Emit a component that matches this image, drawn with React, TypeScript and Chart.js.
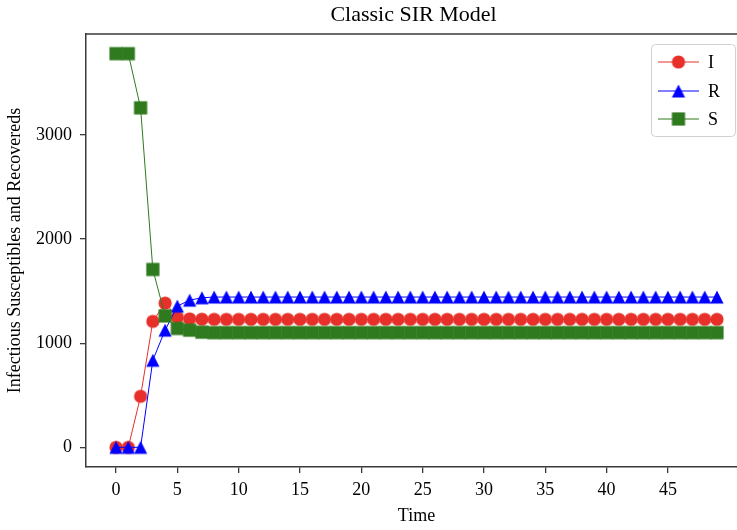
import React, { useEffect, useRef } from "react";
import { Chart, registerables } from "chart.js";
Chart.register(...registerables);

const timeSteps = [
  0, 1, 2, 3, 4, 5, 6, 7, 8, 9, 10, 11, 12, 13, 14, 15, 16, 17, 18, 19, 20, 21, 22, 23, 24,
  25, 26, 27, 28, 29, 30, 31, 32, 33, 34, 35, 36, 37, 38, 39, 40, 41, 42, 43, 44, 45, 46, 47, 48, 49,
];
const infected = [
  0, 0, 490, 1210, 1385, 1248, 1234, 1230, 1229, 1229, 1229, 1229, 1229, 1229, 1229, 1229, 1229,
  1229, 1229, 1229, 1229, 1229, 1229, 1229, 1229, 1229, 1229, 1229, 1229, 1229, 1229, 1229, 1229,
  1229, 1229, 1229, 1229, 1229, 1229, 1229, 1229, 1229, 1229, 1229, 1229, 1229, 1229, 1229, 1229, 1229,
];
const recovered = [
  0, 0, 0, 836, 1125, 1356, 1413, 1436, 1443, 1443, 1443, 1443, 1443, 1443, 1443, 1443, 1443, 1443,
  1443, 1443, 1443, 1443, 1443, 1443, 1443, 1443, 1443, 1443, 1443, 1443, 1443, 1443, 1443, 1443,
  1443, 1443, 1443, 1443, 1443, 1443, 1443, 1443, 1443, 1443, 1443, 1443, 1443, 1443, 1443, 1443,
];
const susceptible = [
  3780, 3780, 3260, 1708, 1262, 1141, 1125, 1106, 1101, 1101, 1101, 1101, 1101, 1101, 1101, 1101,
  1101, 1101, 1101, 1101, 1101, 1101, 1101, 1101, 1101, 1101, 1101, 1101, 1101, 1101, 1101, 1101,
  1101, 1101, 1101, 1101, 1101, 1101, 1101, 1101, 1101, 1101, 1101, 1101, 1101, 1101, 1101, 1101, 1101, 1101,
];
const seriesLabels = ["I", "R", "S"];
const xTickValues = [0, 5, 10, 15, 20, 25, 30, 35, 40, 45];
const yTickValues = [0, 1000, 2000, 3000];
const titleText = "Classic SIR Model";
const xAxisTitle = "Time";
const yAxisTitle = "Infectious Susceptibles and Recovereds";

const RED = "#e8302a";
const BLUE = "#0000ff";
const GREEN = "#2f7a1f";
const SPINE = "#3a3a3a";
const FONT = '"Liberation Serif", "DejaVu Serif", serif';

function makeMarker(kind: string, color: string): HTMLCanvasElement {
  const s = 16;
  const c = document.createElement("canvas");
  c.width = s;
  c.height = s;
  const g = c.getContext("2d")!;
  g.fillStyle = color;
  const m = s / 2;
  const h = 6.6;
  g.beginPath();
  if (kind === "circle") {
    g.arc(m, m, h, 0, Math.PI * 2);
  } else if (kind === "triangle") {
    g.moveTo(m, m - h);
    g.lineTo(m - h, m + h);
    g.lineTo(m + h, m + h);
    g.closePath();
  } else {
    g.rect(m - h, m - h, 2 * h, 2 * h);
  }
  g.fill();
  return c;
}

export default function App() {
  const ref = useRef<HTMLCanvasElement | null>(null);
  useEffect(() => {
    if (!ref.current) return;
    const colors = [RED, BLUE, GREEN];
    const markers = [
      makeMarker("circle", RED),
      makeMarker("triangle", BLUE),
      makeMarker("square", GREEN),
    ];
    const series = [infected, recovered, susceptible];

    const decor = {
      id: "decor",
      afterDraw(chart: any) {
        const ctx = chart.ctx as CanvasRenderingContext2D;
        const a = chart.chartArea;
        ctx.save();
        ctx.strokeStyle = SPINE;
        ctx.lineWidth = 1.5;
        ctx.beginPath();
        ctx.moveTo(a.left, a.top);
        ctx.lineTo(a.right, a.top);
        ctx.lineTo(a.right, a.bottom);
        ctx.stroke();

        ctx.fillStyle = "#000";
        ctx.textAlign = "center";
        ctx.textBaseline = "middle";
        ctx.font = `22px ${FONT}`;
        ctx.fillText(titleText, (a.left + a.right) / 2 - 3, 15);

        ctx.font = `18px ${FONT}`;
        ctx.fillText(xAxisTitle, (a.left + a.right) / 2, 516);

        ctx.save();
        ctx.translate(15, (a.top + a.bottom) / 2);
        ctx.rotate(-Math.PI / 2);
        ctx.fillText(yAxisTitle, 0, 0);
        ctx.restore();

        // legend
        const bx = 651, by = 44, bw = 84, bh = 92;
        ctx.beginPath();
        (ctx as any).roundRect(bx + 0.5, by + 0.5, bw, bh, 4);
        ctx.fillStyle = "rgba(255,255,255,0.85)";
        ctx.fill();
        ctx.strokeStyle = "#d0d0d0";
        ctx.lineWidth = 1;
        ctx.stroke();
        const rows = [62, 91, 119];
        ctx.textAlign = "left";
        ctx.font = `18px ${FONT}`;
        seriesLabels.forEach((lab, i) => {
          const y = rows[i];
          ctx.strokeStyle = colors[i];
          ctx.lineWidth = 1;
          ctx.beginPath();
          ctx.moveTo(658, y);
          ctx.lineTo(699, y);
          ctx.stroke();
          ctx.drawImage(markers[i], 678.5 - 8, y - 8);
          ctx.fillStyle = "#000";
          ctx.fillText(lab, 708, y + 1);
        });
        ctx.restore();
      },
    };

    const chart = new Chart(ref.current, {
      type: "line",
      data: {
        datasets: seriesLabels.map((lab, i) => ({
          label: lab,
          data: timeSteps.map((t, j) => ({ x: t, y: series[i][j] })),
          borderColor: colors[i],
          backgroundColor: colors[i],
          borderWidth: 1,
          pointStyle: markers[i] as any,
          pointRadius: 7,
          pointHoverRadius: 7,
          tension: 0,
          fill: false,
          order: 2 - i,
        })),
      },
      options: {
        responsive: false,
        animation: false,
        devicePixelRatio: 1,
        events: [],
        layout: { padding: { left: 0, right: 13, top: 34, bottom: 0 } },
        plugins: {
          legend: { display: false },
          title: { display: false },
          tooltip: { enabled: false },
        },
        scales: {
          x: {
            type: "linear",
            min: -2.45,
            max: 51.45,
            afterFit: (s: any) => {
              s.height = 63;
            },
            afterBuildTicks: (s: any) => {
              s.ticks = xTickValues.map((v) => ({ value: v }));
            },
            grid: {
              display: true,
              drawOnChartArea: false,
              drawTicks: true,
              tickLength: 6,
              color: SPINE,
              lineWidth: 1.3,
            },
            border: { display: true, color: SPINE, width: 1.5 },
            ticks: {
              color: "#000",
              font: { family: FONT, size: 18 },
              padding: 6,
              maxRotation: 0,
              autoSkip: false,
              callback: (v: any) => String(v),
            },
          },
          y: {
            type: "linear",
            min: -189,
            max: 3969,
            afterFit: (s: any) => {
              s.width = 86;
            },
            afterBuildTicks: (s: any) => {
              s.ticks = yTickValues.map((v) => ({ value: v }));
            },
            grid: {
              display: true,
              drawOnChartArea: false,
              drawTicks: true,
              tickLength: 6,
              color: SPINE,
              lineWidth: 1.3,
            },
            border: { display: true, color: SPINE, width: 1.5 },
            ticks: {
              color: "#000",
              font: { family: FONT, size: 18 },
              padding: 8,
              autoSkip: false,
              callback: (v: any) => String(v),
            },
          },
        },
      },
      plugins: [decor],
    });
    return () => chart.destroy();
  }, []);

  return (
    <div
      style={{
        position: "fixed",
        left: 0,
        top: 0,
        width: 737,
        height: 530,
        overflow: "hidden",
        background: "#fff",
      }}
    >
      <canvas ref={ref} width={760} height={530} style={{ display: "block" }} />
    </div>
  );
}
